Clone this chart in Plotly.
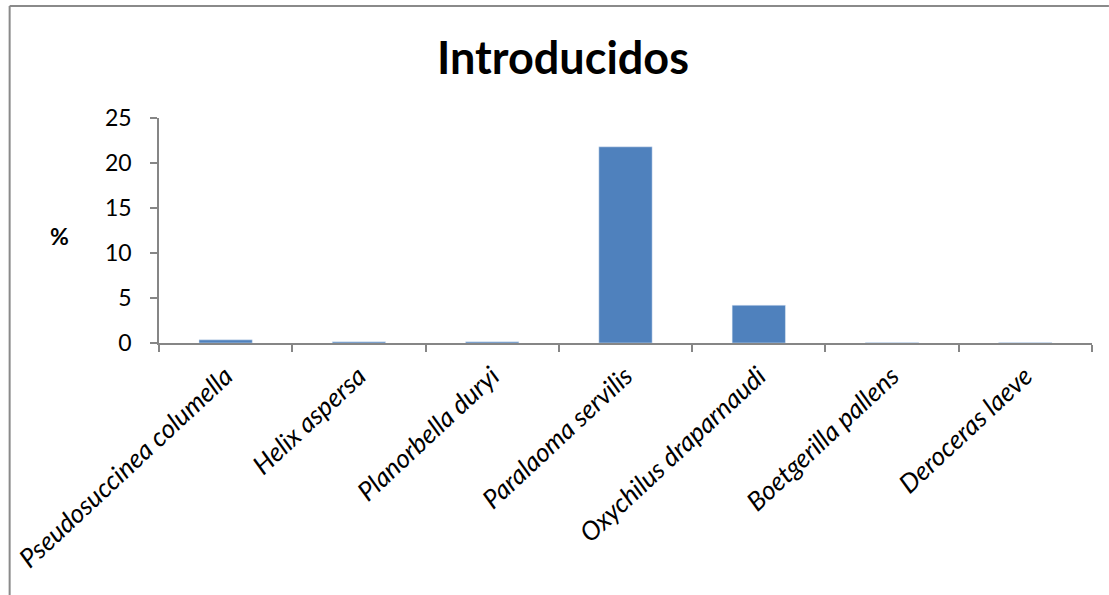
import plotly.graph_objects as go

categories = ["Pseudosuccinea columella", "Helix aspersa", "Planorbella duryi",
              "Paralaoma servilis", "Oxychilus draparnaudi", "Boetgerilla pallens",
              "Deroceras laeve"]
values = [0.35, 0.15, 0.15, 21.8, 4.2, 0.05, 0.05]
y_ticks = [0, 5, 10, 15, 20, 25]

W, H = 1109, 595
L, R, T, B = 155, 17, 118, 252
pw, ph = W - L - R, H - T - B

def px_x(x):
    return (x - L) / pw

def px_y(y):
    return (H - B - y) / ph

fig = go.Figure(go.Bar(x=categories, y=values, marker_color="#4F81BD", width=0.4))

axis_color = "#868686"
fig.update_layout(
    width=W, height=H,
    margin=dict(l=L, r=R, t=T, b=B),
    paper_bgcolor="white", plot_bgcolor="white",
    showlegend=False,
    font=dict(family="Lato", color="black", size=23),
    title=dict(text="<b>Introducidos</b>", x=563 / W, xanchor="center",
               y=1 - 58 / H, yanchor="middle",
               font=dict(family="Lato", size=45, color="black")),
    bargap=0.6,
)
fig.update_xaxes(
    showline=True, linecolor=axis_color, linewidth=1.5,
    ticks="outside", ticklen=7, tickcolor=axis_color, tickwidth=1.5,
    tickson="boundaries", tickangle=-43, showgrid=False,
    ticklabelstandoff=6,
    tickfont=dict(family="Lato", size=26, style="italic"),
)
fig.update_yaxes(
    range=[0, 25], tickvals=y_ticks, showline=True, linecolor=axis_color, linewidth=1.5,
    ticks="outside", ticklen=7, tickcolor=axis_color, tickwidth=1.5,
    ticklabelstandoff=14,
    showgrid=False, zeroline=False, tickfont=dict(family="Lato", size=23),
)
fig.add_annotation(text="<b>%</b>", xref="paper", yref="paper",
                   x=px_x(55), y=px_y(236), xanchor="center", yanchor="middle",
                   showarrow=False,
                   font=dict(family="Lato", size=23, color="black"))
# outer chart border (left and top visible)
border = dict(color="#8a8a8a", width=2)
fig.add_shape(type="line", xref="paper", yref="paper",
              x0=px_x(5), x1=px_x(5), y0=px_y(6), y1=px_y(700), line=border)
fig.add_shape(type="line", xref="paper", yref="paper",
              x0=px_x(5), x1=px_x(1109), y0=px_y(6), y1=px_y(6), line=border)

fig.write_html("out.html", config={"displayModeBar": False})
